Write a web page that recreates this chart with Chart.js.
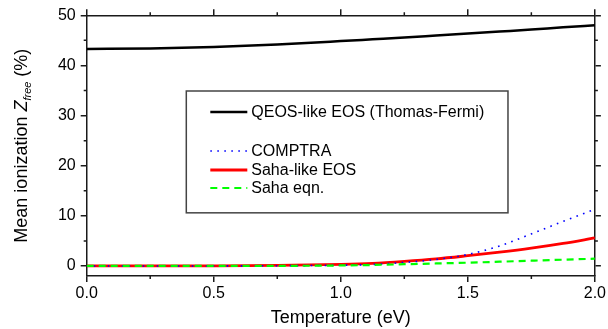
<!DOCTYPE html>
<html>
<head>
<meta charset="utf-8">
<script src="https://cdn.jsdelivr.net/npm/chart.js@4.4.1/dist/chart.umd.min.js"></script>
<style>
  html, body { margin: 0; padding: 0; background: #fff; }
  #wrap { width: 608px; height: 329px; }
</style>
</head>
<body>
<div id="wrap"><canvas id="c" width="608" height="329"></canvas></div>
<script>
// Temperature grid (eV)
const temperature = [0, 0.25, 0.5, 0.75, 1.0, 1.125, 1.25, 1.375, 1.5, 1.625, 1.75, 1.875, 2.0];
// Mean ionization (%) for each model
const qeosTF   = [43.3, 43.4, 43.7, 44.2, 44.85, 45.2, 45.55, 45.95, 46.35, 46.75, 47.15, 47.6, 48.0];
const comptra  = [0, 0, 0.01, 0.05, 0.15, 0.3, 0.7, 1.3, 2.3, 4.0, 6.4, 8.9, 11.3];
const sahaLike = [0, 0, 0.02, 0.1, 0.3, 0.5, 0.9, 1.4, 2.05, 2.75, 3.55, 4.5, 5.6];
const sahaEqn  = [0, 0, 0, 0.02, 0.1, 0.2, 0.35, 0.5, 0.65, 0.85, 1.05, 1.25, 1.45];

const xMajor = [0, 0.5, 1.0, 1.5, 2.0];
const xMinor = [0.25, 0.75, 1.25, 1.75];
const yMajor = [0, 10, 20, 30, 40, 50];
const yMinor = [5, 15, 25, 35, 45];

const AXIS = '#1a1a1a';
const FONT = '"Liberation Sans", Arial, sans-serif';

const pts = ys => temperature.map((t, i) => ({ x: t, y: ys[i] }));

const datasets = [
  { label: 'QEOS-like EOS (Thomas-Fermi)', data: pts(qeosTF), borderColor: '#000000', borderWidth: 2.5 },
  { label: 'COMPTRA', data: pts(comptra), borderColor: '#0000ff', borderWidth: 1.6, borderDash: [1.6, 5.4] },
  { label: 'Saha-like EOS', data: pts(sahaLike), borderColor: '#ff0000', borderWidth: 2.8 },
  { label: 'Saha eqn.', data: pts(sahaEqn), borderColor: '#00ff00', borderWidth: 2.2, borderDash: [7, 5] }
].map(d => Object.assign(d, { pointRadius: 0, fill: false, cubicInterpolationMode: 'monotone' }));

// Draw green first, then blue, red and black on top
const order = [3, 1, 2, 0];
datasets.forEach((d, i) => d.order = order.indexOf(i));

const axisCommon = {
  type: 'linear',
  border: { display: true, color: AXIS, width: 1.5 },
  grid: { drawOnChartArea: false, drawTicks: true, tickLength: 6, color: AXIS, lineWidth: 1.5 },
  ticks: { color: '#000', font: { family: FONT, size: 16 }, padding: 3 }
};

function fixed(size) {
  return function (scale) {
    if (scale.isHorizontal()) scale.height = size; else scale.width = size;
  };
}

const sideTicks = {
  id: 'sideTicks',
  afterDraw(chart) {
    const ctx = chart.ctx;
    const { x, y, x2, y2 } = chart.scales;
    ctx.save();
    ctx.strokeStyle = AXIS;
    ctx.lineWidth = 1.5;
    ctx.beginPath();
    xMinor.forEach(v => {
      const px = x.getPixelForValue(v);
      ctx.moveTo(px, x.top); ctx.lineTo(px, x.top + 3);
      ctx.moveTo(px, x2.bottom); ctx.lineTo(px, x2.bottom - 3);
    });
    yMinor.forEach(v => {
      const py = y.getPixelForValue(v);
      ctx.moveTo(y.right, py); ctx.lineTo(y.right - 3, py);
      ctx.moveTo(y2.left, py); ctx.lineTo(y2.left + 3, py);
    });
    ctx.stroke();

    // y-axis title with italic Z and subscript "free"
    const cy = (y.top + y.bottom) / 2;
    const parts = [
      { t: 'Mean ionization ', f: `18px ${FONT}`, dy: 0 },
      { t: 'Z', f: `italic 18px ${FONT}`, dy: 0 },
      { t: 'free', f: `italic 11px ${FONT}`, dy: 4 },
      { t: ' (%)', f: `18px ${FONT}`, dy: 0 }
    ];
    let total = 0;
    parts.forEach(p => { ctx.font = p.f; p.w = ctx.measureText(p.t).width; total += p.w; });
    ctx.translate(27, cy);
    ctx.rotate(-Math.PI / 2);
    ctx.fillStyle = '#000';
    ctx.textBaseline = 'alphabetic';
    let cx = -total / 2;
    parts.forEach(p => { ctx.font = p.f; ctx.fillText(p.t, cx, p.dy); cx += p.w; });
    ctx.restore();
  }
};

const boxLegend = {
  id: 'boxLegend',
  afterDraw(chart) {
    const ctx = chart.ctx;
    const { x, y } = chart.scales;
    // legend frame anchored in data coordinates
    const left = x.getPixelForValue(0.392), right = x.getPixelForValue(1.658);
    const top = y.getPixelForValue(34.9), bottom = y.getPixelForValue(10.6);
    ctx.save();
    ctx.fillStyle = '#fff';
    ctx.fillRect(left, top, right - left, bottom - top);
    ctx.strokeStyle = '#444';
    ctx.lineWidth = 1.5;
    ctx.strokeRect(left, top, right - left, bottom - top);
    const rows = [0, null, 1, 2, 3];
    const rowY = [112, 131.5, 151, 170, 188];
    ctx.font = `16px ${FONT}`;
    ctx.textBaseline = 'middle';
    rows.forEach((di, r) => {
      if (di === null) return;
      const d = chart.data.datasets[di];
      const yy = rowY[r];
      ctx.strokeStyle = d.borderColor;
      ctx.lineWidth = d.borderWidth;
      ctx.setLineDash(d.borderDash || []);
      ctx.beginPath();
      ctx.moveTo(left + 24, yy); ctx.lineTo(left + 61, yy);
      ctx.stroke();
      ctx.setLineDash([]);
      ctx.fillStyle = '#000';
      ctx.fillText(d.label, left + 65, yy + 0.5);
    });
    ctx.restore();
  }
};

new Chart(document.getElementById('c'), {
  type: 'line',
  data: { datasets },
  options: {
    responsive: false,
    animation: false,
    devicePixelRatio: 1,
    layout: { padding: 0 },
    plugins: { legend: { display: false }, tooltip: { enabled: false } },
    scales: {
      x: Object.assign({}, axisCommon, {
        position: 'bottom', min: 0, max: 2,
        afterBuildTicks: s => { s.ticks = xMajor.map(v => ({ value: v })); },
        ticks: Object.assign({}, axisCommon.ticks, { callback: v => v.toFixed(1), maxRotation: 0, padding: 2 }),
        title: { display: true, text: 'Temperature (eV)', color: '#000', font: { family: FONT, size: 18 }, padding: { top: 2, bottom: 0 } },
        afterFit: fixed(53)
      }),
      x2: Object.assign({}, axisCommon, {
        position: 'top', min: 0, max: 2,
        afterBuildTicks: s => { s.ticks = xMajor.map(v => ({ value: v })); },
        ticks: Object.assign({}, axisCommon.ticks, { callback: () => '' }),
        afterFit: fixed(15.3)
      }),
      y: Object.assign({}, axisCommon, {
        position: 'left', min: -2, max: 50,
        afterBuildTicks: s => { s.ticks = yMajor.map(v => ({ value: v })); },
        ticks: Object.assign({}, axisCommon.ticks, { padding: 5 }),
        afterFit: fixed(86.7)
      }),
      y2: Object.assign({}, axisCommon, {
        position: 'right', min: -2, max: 50,
        afterBuildTicks: s => { s.ticks = yMajor.map(v => ({ value: v })); },
        ticks: Object.assign({}, axisCommon.ticks, { callback: () => '' }),
        afterFit: fixed(12.3)
      })
    }
  },
  plugins: [sideTicks, boxLegend]
});
</script>
</body>
</html>
